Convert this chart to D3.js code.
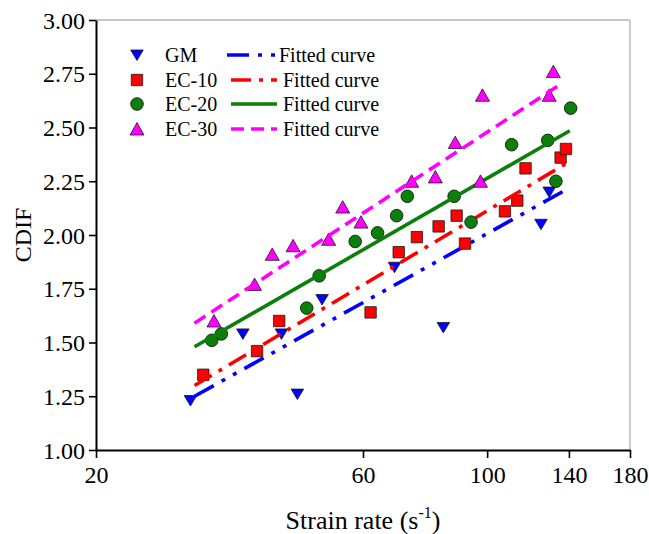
<!DOCTYPE html>
<html>
<head>
<meta charset="utf-8">
<script src="https://cdn.jsdelivr.net/npm/d3@7"></script>
<style>
    body { margin: 0; background: #fff; }
    text { font-family: "Liberation Serif", "Times New Roman", serif; fill: #000; }
</style>
</head>
<body>
<div id="chart"></div>
<script>
// strain rate (s^-1) and CDIF
const gmX = [29.5, 36.6, 42.9, 45.8, 50.7, 68.3, 83.5, 124.8, 129.1];
const gmY = [1.23, 1.54, 1.54, 1.26, 1.70, 1.85, 1.57, 2.05, 2.20];

const ec10X = [31.1, 38.8, 42.5, 61.9, 69.5, 74.9, 81.9, 88.2, 91.3, 107.6, 113.2, 117.1, 135.3, 138.3];
const ec10Y = [1.35, 1.46, 1.60, 1.64, 1.92, 1.99, 2.04, 2.09, 1.96, 2.11, 2.16, 2.31, 2.36, 2.40];

const ec20X = [32.2, 33.5, 47.6, 50.1, 58.1, 63.7, 68.9, 72.0, 87.3, 93.6, 110.6, 128.3, 132.7, 141.0];
const ec20Y = [1.51, 1.54, 1.66, 1.81, 1.97, 2.01, 2.09, 2.18, 2.18, 2.06, 2.42, 2.44, 2.25, 2.59];

const ec30X = [32.5, 38.4, 41.3, 45.0, 52.1, 55.2, 59.5, 73.3, 80.8, 87.7, 97.3, 98.1, 129.1, 131.3];
const ec30Y = [1.60, 1.77, 1.91, 1.95, 1.98, 2.13, 2.06, 2.25, 2.27, 2.43, 2.25, 2.65, 2.65, 2.76];

// fitted curves: end points (straight on log x)
const gmFit = [[30, 1.25], [140.5, 2.22]];
const ec10Fit = [[30, 1.30], [139, 2.335]];
const ec20Fit = [[30, 1.48], [140.5, 2.485]];
const ec30Fit = [[30, 1.59], [136, 2.705]];

const seriesNames = ["GM", "EC-10", "EC-20", "EC-30"];
const fitName = "Fitted curve";

const xTicks = [20, 60, 100, 140, 180];
const yTicks = [1.00, 1.25, 1.50, 1.75, 2.00, 2.25, 2.50, 2.75, 3.00];

class StrainRateVis {

    constructor(parentElement) {
        this.parentElement = parentElement;
        this.initVis();
    }

    initVis() {
        let vis = this;

        vis.margin = { top: 20, right: 19, bottom: 84, left: 96 };
        vis.width = 649 - vis.margin.left - vis.margin.right;
        vis.height = 534 - vis.margin.top - vis.margin.bottom;

        vis.svg = d3.select("#" + vis.parentElement).append("svg")
            .attr("width", 649)
            .attr("height", 534)
            .append("g")
            .attr("transform", "translate(" + vis.margin.left + "," + vis.margin.top + ")");

        vis.x = d3.scaleLog().domain([20, 180]).range([0, vis.width]);
        vis.y = d3.scaleLinear().domain([1, 3]).range([vis.height, 0]);

        // frame top / right
        vis.svg.append("line")
            .attr("x1", 0).attr("x2", vis.width).attr("y1", 0).attr("y2", 0)
            .attr("stroke", "#8c8c8c").attr("stroke-width", 1);
        vis.svg.append("line")
            .attr("x1", vis.width).attr("x2", vis.width).attr("y1", 0).attr("y2", vis.height)
            .attr("stroke", "#cccccc").attr("stroke-width", 2);

        vis.drawAxes();
        vis.wrangleData();
    }

    drawAxes() {
        let vis = this;

        let xMinor = d3.range(25, 180, 5).filter(d => !xTicks.includes(d));
        let yMinor = d3.range(1.125, 3, 0.25);

        let xAxis = d3.axisBottom(vis.x).tickValues(xTicks).tickFormat(d3.format("d"))
            .tickSize(8).tickSizeOuter(0).tickPadding(8);
        let xAxisMinor = d3.axisBottom(vis.x).tickValues(xMinor).tickFormat("").tickSize(4).tickSizeOuter(0);
        let yAxis = d3.axisLeft(vis.y).tickValues(yTicks).tickFormat(d3.format(".2f"))
            .tickSize(7).tickSizeOuter(0).tickPadding(4);
        let yAxisMinor = d3.axisLeft(vis.y).tickValues(yMinor).tickFormat("").tickSize(4).tickSizeOuter(0);

        let gx = vis.svg.append("g").attr("transform", "translate(0," + vis.height + ")");
        gx.call(xAxisMinor);
        gx.call(xAxis);
        let gy = vis.svg.append("g");
        gy.call(yAxisMinor);
        gy.call(yAxis);

        [gx, gy].forEach(g => {
            g.selectAll(".domain").attr("stroke", "#000").attr("stroke-width", 2);
            g.selectAll(".tick line").attr("stroke", "#000").attr("stroke-width", 1.6);
            g.selectAll("text")
                .style("font-family", "'Liberation Serif', 'Times New Roman', serif")
                .attr("font-size", 24).attr("fill", "#000");
        });
        gx.selectAll("text").attr("dy", "0.71em").attr("y", 16);
        gy.selectAll("text").attr("dy", "0.34em");

        // axis titles
        let xt = vis.svg.append("text")
            .attr("x", vis.width / 2)
            .attr("y", vis.height + 79)
            .attr("text-anchor", "middle")
            .attr("font-size", 26);
        xt.append("tspan").text("Strain rate (s");
        xt.append("tspan").attr("font-size", 16).attr("dy", -11).text("-1");
        xt.append("tspan").attr("dy", 11).text(")");

        vis.svg.append("text")
            .attr("transform", "translate(" + (31 - vis.margin.left) + "," + (vis.height / 2) + ") rotate(-90)")
            .attr("text-anchor", "middle")
            .attr("font-size", 24)
            .text("CDIF");
    }

    wrangleData() {
        let vis = this;

        vis.series = [
            { name: seriesNames[0], xs: gmX, ys: gmY, fit: gmFit, color: "#0000ff", shape: "down", dash: "22,9,4,9,4,9" },
            { name: seriesNames[1], xs: ec10X, ys: ec10Y, fit: ec10Fit, color: "#ff0000", shape: "square", dash: "20,8,4,8" },
            { name: seriesNames[2], xs: ec20X, ys: ec20Y, fit: ec20Fit, color: "#0a800a", shape: "circle", dash: null },
            { name: seriesNames[3], xs: ec30X, ys: ec30Y, fit: ec30Fit, color: "#ff00ff", shape: "up", dash: "13,7" }
        ];
        vis.series.forEach(s => {
            s.points = s.xs.map((x, i) => ({ x: x, y: s.ys[i] }));
        });

        vis.updateVis();
    }

    // marker path centred on 0,0
    shapePath(shape) {
        if (shape === "down") return "M-6.3,-5 L6.3,-5 L0,5.5 Z";
        if (shape === "up") return "M0,-6.4 L7,6 L-7,6 Z";
        if (shape === "square") return "M-5.7,-5.7 H5.7 V5.7 H-5.7 Z";
        return null;
    }

    drawMarker(g, shape, color) {
        let vis = this;
        if (shape === "circle") {
            return g.append("circle").attr("r", 6.3)
                .attr("fill", color).attr("stroke", "#1a1a1a").attr("stroke-width", 0.9);
        }
        return g.append("path").attr("d", vis.shapePath(shape))
            .attr("fill", color).attr("stroke", "#1a1a1a").attr("stroke-width", 0.8);
    }

    updateVis() {
        let vis = this;

        let line = d3.line().x(d => vis.x(d[0])).y(d => vis.y(d[1]));

        vis.series.forEach(s => {
            let g = vis.svg.append("g");
            s.points.forEach(p => {
                let m = g.append("g").attr("transform", "translate(" + vis.x(p.x) + "," + vis.y(p.y) + ")");
                vis.drawMarker(m, s.shape, s.color);
            });
            g.append("path")
                .datum(s.fit)
                .attr("d", line)
                .attr("fill", "none")
                .attr("stroke", s.color)
                .attr("stroke-width", 3.6)
                .attr("stroke-dasharray", s.dash);
        });

        // legend
        let rowsY = [55, 80, 104, 129];
        let leg = vis.svg.append("g").attr("transform", "translate(" + (-vis.margin.left) + "," + (-vis.margin.top) + ")");
        vis.series.forEach((s, i) => {
            let cy = rowsY[i];
            let m = leg.append("g").attr("transform", "translate(137," + cy + ")");
            vis.drawMarker(m, s.shape, s.color);
            leg.append("text").attr("x", 165).attr("y", cy).attr("dy", "0.35em")
                .attr("font-size", 20).text(s.name);
            let x1 = i === 0 ? 227 : 231;
            let x2 = i === 0 ? 275 : 277;
            leg.append("line")
                .attr("x1", x1).attr("x2", x2).attr("y1", cy).attr("y2", cy)
                .attr("stroke", s.color).attr("stroke-width", 3.6)
                .attr("stroke-dasharray", s.dash);
            leg.append("text").attr("x", i === 0 ? 279 : 283).attr("y", cy).attr("dy", "0.35em")
                .attr("font-size", 20).text(fitName);
        });
    }
}

new StrainRateVis("chart");
</script>
</body>
</html>
